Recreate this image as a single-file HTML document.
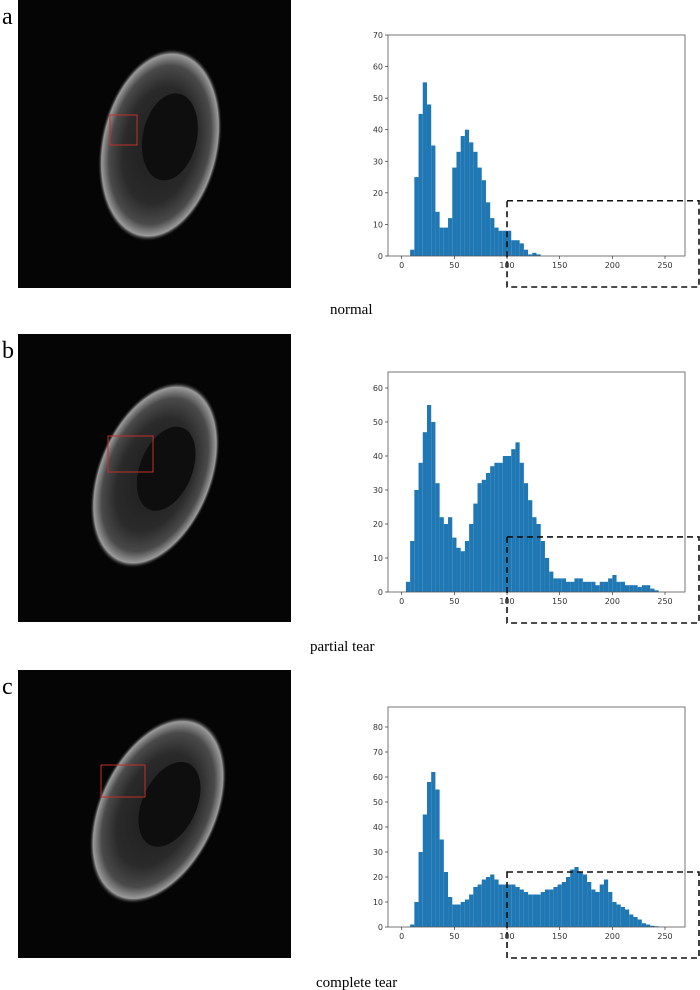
<!DOCTYPE html>
<html><head><meta charset="utf-8"><style>
body{margin:0;background:#fff;}
svg{display:block;}
.lbl{font-family:"Liberation Serif",serif;font-size:24px;fill:#000;}
.cap{font-family:"Liberation Serif",serif;font-size:15px;fill:#000;}
.tk{font-family:"DejaVu Sans",sans-serif;font-size:8px;fill:#333;}
</style></head><body>
<svg id="fig" width="700" height="990" viewBox="0 0 700 990">
<defs>
<radialGradient id="ank" cx="50%" cy="50%" r="50%">
<stop offset="0" stop-color="#1c1c1c"/><stop offset="0.6" stop-color="#2a2a2a"/><stop offset="0.82" stop-color="#4a4a4a"/><stop offset="0.94" stop-color="#9a9a9a"/><stop offset="1" stop-color="#000" stop-opacity="0"/>
</radialGradient>
</defs>
</svg>
<script>
const binWidth = 4;
const normalCounts = [0,0,2,25,45,55,48,35,14,9,9,12,28,33,38,40,36,33,28,24,17,12,9,8,8,8,5,5,4,2,0.5,1,0.5];
const partialCounts = [0,3,15,30,38,47,55,50,32,22,20,22,16,13,12,15,20,26,32,33,35,37,38,38,40,40,42,44,38,32,27,22,20,15,10,6,4,4,4,3,3,4,4,3,3,3,2,3,3,4,5,3,3,2,2,2,1.5,2,2,1,0.5];
const completeCounts = [0,0,1,10,30,45,58,62,55,35,22,12,9,9,10,11,13,16,17,19,20,21,19,17,17,17,17,16,15,14,13,13,13,14,15,15,16,17,18,20,23,24,22,21,18,15,14,17,19,14,10,9,8,7,5,4,3,1.5,1,0.5,0.3];
const xTicks = [0,50,100,150,200,250];
const yTicksA = [0,10,20,30,40,50,60,70];
const yTicksB = [0,10,20,30,40,50,60];
const yTicksC = [0,10,20,30,40,50,60,70,80];
const panels = [
 {key:'a',caption:'normal',counts:normalCounts,yTicks:yTicksA,ymax:70,top:35,bottom:256,imgTop:0,boxTopVal:17.5,capX:330,capY:314,
  box:[110,115,27,30],ank:[160,145,60,98,12]},
 {key:'b',caption:'partial tear',counts:partialCounts,yTicks:yTicksB,ymax:64.7,top:372,bottom:592,imgTop:334,boxTopVal:16.2,capX:310,capY:651,
  box:[108,436,45,36],ank:[155,475,58,98,22]},
 {key:'c',caption:'complete tear',counts:completeCounts,yTicks:yTicksC,ymax:88,top:707,bottom:927,imgTop:670,boxTopVal:22,capX:316,capY:987,
  box:[101,765,44,32],ank:[158,810,60,100,25]}
];
const NS='http://www.w3.org/2000/svg';
const svg=document.getElementById('fig');
function mk(tag,attrs,parent){const e=document.createElementNS(NS,tag);for(const k in attrs)e.setAttribute(k,attrs[k]);(parent||svg).appendChild(e);return e;}
const axL=388, axR=685, x0=401.7, pxPer=(665-401.7)/250;
function xs(v){return x0+v*pxPer;}
panels.forEach(p=>{
 const g=mk('g',{});
 
 
 const lab=mk('text',{x:2,y:p.imgTop+24,class:'lbl'},g);lab.textContent=p.key;
 
 
 const ig=mk('g',{},g);
 
 
 mk('rect',{x:18,y:p.imgTop,width:273,height:288,fill:'#050505'},ig);
 const [cx,cy,rx,ry,rot]=p.ank;
 mk('ellipse',{cx:cx,cy:cy,rx:rx,ry:ry,fill:'url(#ank)',transform:`rotate(${rot} ${cx} ${cy})`},ig);
 mk('ellipse',{cx:cx+8,cy:cy-10,rx:rx*0.45,ry:ry*0.45,fill:'#0e0e0e',transform:`rotate(${rot} ${cx} ${cy})`},ig);
 const rb=mk('rect',{x:p.box[0],y:p.box[1],width:p.box[2],height:p.box[3],fill:'none',stroke:'#c0302a','stroke-width':1},ig);
 
 
 const hg=mk('g',{},g);
 
 
 const ys=v=>p.bottom-(v/p.ymax)*(p.bottom-p.top);
 p.counts.forEach((c,i)=>{
  if(c<=0)return;
  const b=mk('rect',{x:xs(i*binWidth),y:ys(c),width:binWidth*pxPer,height:p.bottom-ys(c),fill:'#1f77b4'},hg);
  
  
 });
 mk('rect',{x:axL,y:p.top,width:axR-axL,height:p.bottom-p.top,fill:'none',stroke:'#555','stroke-width':0.8},hg);
 xTicks.forEach(t=>{
  mk('line',{x1:xs(t),x2:xs(t),y1:p.bottom,y2:p.bottom+3,stroke:'#333','stroke-width':0.7},hg);
  const tx=mk('text',{x:xs(t),y:p.bottom+12,class:'tk','text-anchor':'middle'},hg);tx.textContent=t;
  
  
 });
 p.yTicks.forEach(t=>{
  mk('line',{x1:axL-3,x2:axL,y1:ys(t),y2:ys(t),stroke:'#333','stroke-width':0.7},hg);
  const tx=mk('text',{x:axL-5,y:ys(t)+3,class:'tk','text-anchor':'end'},hg);tx.textContent=t;
  
  
 });
 const db=mk('rect',{x:xs(100),y:ys(p.boxTopVal),width:699-xs(100),height:p.bottom+31-ys(p.boxTopVal),fill:'none',stroke:'#111','stroke-width':1.6,'stroke-dasharray':'6,4'},hg);
 
 
 const cap=mk('text',{x:p.capX,y:p.capY,class:'cap'},g);cap.textContent=p.caption;
 
 
});
</script>
</body></html>
